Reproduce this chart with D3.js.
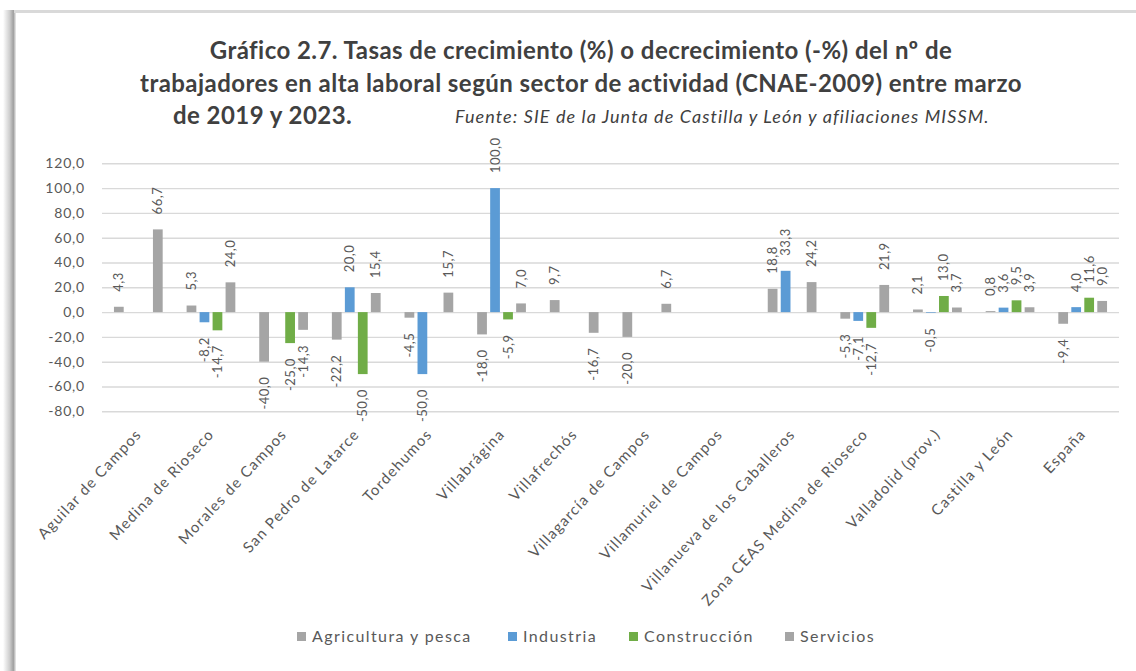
<!DOCTYPE html>
<html>
<head>
<meta charset="utf-8">
<script src="https://cdn.jsdelivr.net/npm/d3@7"></script>
<style>
    body { margin: 0; background: #fff; }
    svg { display: block; }
</style>
</head>
<body>
<div id="chart"></div>
<script>
// Data
const categories = [
    "Aguilar de Campos", "Medina de Rioseco", "Morales de Campos", "San Pedro de Latarce",
    "Tordehumos", "Villabrágina", "Villafrechós", "Villagarcía de Campos",
    "Villamuriel de Campos", "Villanueva de los Caballeros", "Zona CEAS Medina de Rioseco",
    "Valladolid (prov.)", "Castilla y León", "España"
];
const seriesNames = ["Agricultura y pesca", "Industria", "Construcción", "Servicios"];
const agricultura = [4.3, 5.3, -40.0, -22.2, -4.5, -18.0, 9.7, -20.0, null, 18.8, -5.3, 2.1, 0.8, -9.4];
const industria = [null, -8.2, null, 20.0, -50.0, 100.0, null, null, null, 33.3, -7.1, -0.5, 3.6, 4.0];
const construccion = [null, -14.7, -25.0, -50.0, null, -5.9, null, null, null, null, -12.7, 13.0, 9.5, 11.6];
const servicios = [66.7, 24.0, -14.3, 15.4, 15.7, 7.0, -16.7, 6.7, null, 24.2, 21.9, 3.7, 3.9, 9.0];
const yTicks = [-80, -60, -40, -20, 0, 20, 40, 60, 80, 100, 120];

const seriesValues = [agricultura, industria, construccion, servicios];
const seriesColors = ["#A5A5A5", "#5B9BD5", "#70AD47", "#A5A5A5"];

const width = 1136, height = 671;
const plot = { left: 102, right: 1119, top: 163.3, bottom: 411.3 };

const esLocale = d3.formatLocale({ decimal: ",", thousands: ".", grouping: [3], currency: ["", " €"], minus: "-" });
const fmt = esLocale.format(".1f");

const svg = d3.select("#chart").append("svg")
    .attr("width", width)
    .attr("height", height)
    .style("font-family", "Lato, 'Open Sans', sans-serif");

// Screenshot frame (shadow on the left, line on top)
const defs = svg.append("defs");
const grad = defs.append("linearGradient").attr("id", "shadowLeft")
    .attr("x1", "0").attr("x2", "1").attr("y1", "0").attr("y2", "0");
grad.append("stop").attr("offset", "0%").attr("stop-color", "#ffffff");
grad.append("stop").attr("offset", "50%").attr("stop-color", "#cfcfcf");
grad.append("stop").attr("offset", "80%").attr("stop-color", "#a0a0a0");
grad.append("stop").attr("offset", "100%").attr("stop-color", "#eeeeee");

svg.append("rect")
    .attr("x", 3).attr("y", 10)
    .attr("width", 13).attr("height", height - 10)
    .attr("fill", "url(#shadowLeft)");
svg.append("rect")
    .attr("x", 14).attr("y", 10)
    .attr("width", width - 14).attr("height", 3)
    .attr("fill", "#d9d9d9");

// Title
const title = svg.append("g")
    .style("font-weight", "bold")
    .style("font-size", "24px")
    .style("letter-spacing", "0.45px")
    .style("fill", "#404040");

title.append("text")
    .attr("x", 581).attr("y", 59)
    .attr("text-anchor", "middle")
    .text("Gráfico 2.7. Tasas de crecimiento (%) o decrecimiento (-%) del nº de");
title.append("text")
    .attr("x", 581).attr("y", 92)
    .attr("text-anchor", "middle")
    .text("trabajadores en alta laboral según sector de actividad (CNAE-2009) entre marzo");
title.append("text")
    .attr("x", 173).attr("y", 124)
    .text("de 2019 y 2023.");

svg.append("text")
    .attr("x", 455).attr("y", 123)
    .style("font-style", "italic")
    .style("font-size", "18px")
    .style("letter-spacing", "1.1px")
    .style("fill", "#404040")
    .text("Fuente: SIE de la Junta de Castilla y León y afiliaciones MISSM.");

// Scales
const x0 = d3.scaleBand()
    .domain(categories)
    .range([plot.left, plot.right])
    .padding(0);

const x1 = d3.scaleBand()
    .domain(seriesNames)
    .range([0, x0.bandwidth()])
    .paddingInner(0.25)
    .paddingOuter(0.92);

const y = d3.scaleLinear()
    .domain([-80, 120])
    .range([plot.bottom, plot.top]);

// Gridlines + y labels
svg.append("g")
    .attr("transform", `translate(${plot.left},0)`)
    .call(d3.axisLeft(y)
        .tickValues(yTicks)
        .tickSize(-(plot.right - plot.left))
        .tickPadding(17)
        .tickFormat(fmt))
    .call(g => g.select(".domain").remove())
    .call(g => g.selectAll(".tick line")
        .attr("stroke", "#d9d9d9")
        .attr("stroke-width", 1.4))
    .call(g => g.selectAll(".tick text")
        .attr("fill", "#595959")
        .style("font-family", "Lato, sans-serif")
        .style("font-size", "14px")
        .style("letter-spacing", "0.8px"));

// Bars
const rows = categories.map((c, i) => ({
    category: c,
    values: seriesNames.map((s, j) => ({ key: s, value: seriesValues[j][i], color: seriesColors[j] }))
}));

const groups = svg.selectAll(".series")
    .data(rows)
    .join("g")
    .attr("class", "series")
    .attr("transform", d => `translate(${x0(d.category)},0)`);

groups.selectAll("rect")
    .data(d => d.values.filter(v => v.value !== null))
    .join("rect")
    .attr("x", d => x1(d.key))
    .attr("width", x1.bandwidth())
    .attr("y", d => y(Math.max(0, d.value)))
    .attr("height", d => Math.abs(y(d.value) - y(0)))
    .attr("fill", d => d.color);

// Data labels (rotated)
groups.selectAll("text.label")
    .data(d => d.values.filter(v => v.value !== null))
    .join("text")
    .attr("class", "label")
    .attr("transform", d => {
        const cx = x1(d.key) + x1.bandwidth() / 2;
        const cy = d.value >= 0 ? y(d.value) - 15 : y(d.value) + 15;
        return `translate(${cx},${cy}) rotate(-90)`;
    })
    .attr("dy", "0.35em")
    .attr("text-anchor", d => d.value >= 0 ? "start" : "end")
    .style("font-size", "13px")
    .style("letter-spacing", "0.5px")
    .style("fill", "#595959")
    .text(d => fmt(d.value));

// X labels (rotated)
svg.append("g")
    .selectAll("text")
    .data(categories)
    .join("text")
    .attr("transform", d => `translate(${x0(d) + x0.bandwidth() / 2 + 4},${435}) rotate(-47)`)
    .attr("text-anchor", "end")
    .style("font-size", "15px")
    .style("letter-spacing", "1.2px")
    .style("fill", "#595959")
    .text(d => d);

// Legend
const legendX = [297, 508, 629, 785];
const legend = svg.append("g")
    .selectAll("g")
    .data(seriesNames)
    .join("g")
    .attr("transform", (d, i) => `translate(${legendX[i]},632)`);

legend.append("rect")
    .attr("width", 9)
    .attr("height", 9)
    .attr("fill", (d, i) => seriesColors[i]);

legend.append("text")
    .attr("x", 15)
    .attr("y", 4.5)
    .attr("dy", "0.35em")
    .style("font-size", "16px")
    .style("letter-spacing", "1.4px")
    .style("fill", "#595959")
    .text(d => d);
</script>
</body>
</html>
